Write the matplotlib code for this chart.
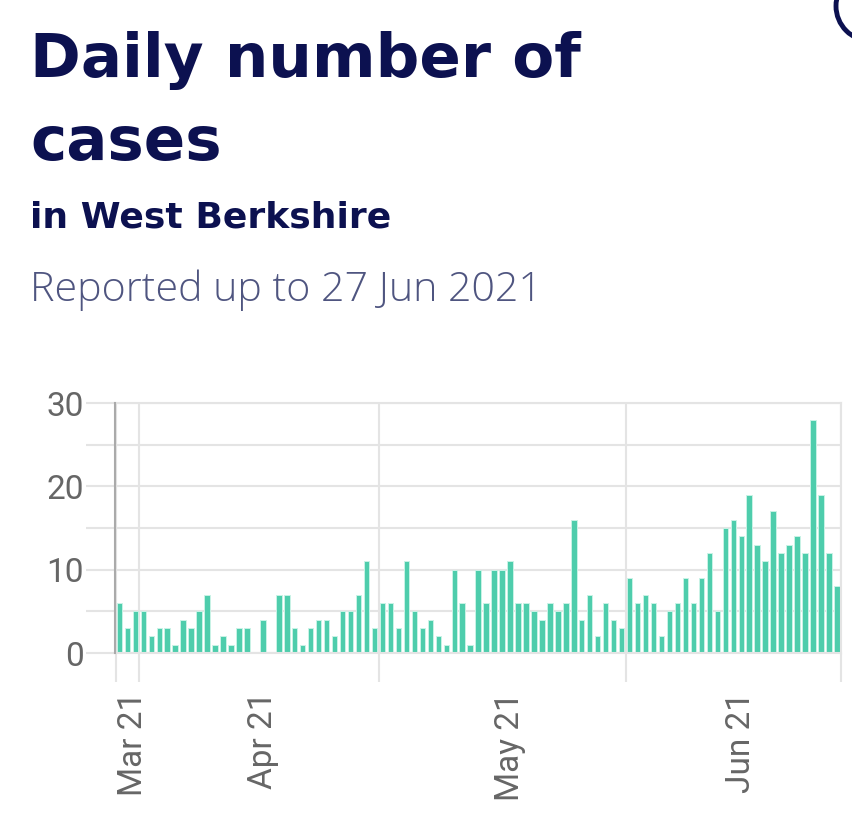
import pandas as pd
import numpy as np
import matplotlib
matplotlib.use('Agg')
import matplotlib.pyplot as plt
import matplotlib.dates as mdates
from matplotlib.patches import Circle

# daily cases, West Berkshire, 29 Mar - 27 Jun 2021
start = '2021-03-29'
end = '2021-06-27'
cases = [6, 3, 5, 5, 2, 3, 3, 1, 4, 3, 5, 7, 1, 2, 1, 3, 3, 0, 4, 0, 7, 7,
         3, 1, 3, 4, 4, 2, 5, 5, 7, 11, 3, 6, 6, 3, 11, 5, 3, 4, 2, 1, 10, 6, 1,
         10, 6, 10, 10, 11, 6, 6, 5, 4, 6, 5, 6, 16, 4, 7, 2, 6, 4, 3, 9, 6, 7,
         6, 2, 5, 6, 9, 6, 9, 12, 5, 15, 16, 14, 19, 13, 11, 17, 12, 13, 14, 12, 28, 19, 12, 8]
month_lines = ['2021-04-01', '2021-05-01', '2021-06-01']
label_pos = ['2021-03-31 05:00', '2021-04-16 12:00', '2021-05-17 12:00', '2021-06-15 10:00']
label_txt = ['Mar 21', 'Apr 21', 'May 21', 'Jun 21']
yticks_major = [0, 10, 20, 30]
yticks_minor = [5, 15, 25]

dates = pd.date_range(start, end, freq='D')
df = pd.DataFrame({'cases': cases}, index=dates)

navy = '#0c1150'
grey_txt = '#666666'
grid_c = '#e4e4e4'
bar_c = '#4ecdac'

W, H = 853, 815
fig = plt.figure(figsize=(W / 100, H / 100), dpi=100)
fig.patch.set_facecolor('white')

# headings
fig.text(30 / W, 1 - 77 / H, 'Daily number of', fontsize=44, color=navy,
         family='DejaVu Sans', weight='bold', va='baseline')
fig.text(30 / W, 1 - 160 / H, 'cases', fontsize=44, color=navy,
         family='DejaVu Sans', weight='bold', va='baseline')
fig.text(30 / W, 1 - 228 / H, 'in West Berkshire', fontsize=26, color=navy,
         family='DejaVu Sans', weight='bold', va='baseline')
fig.text(30 / W, 1 - 301 / H, 'Reported up to 27 Jun 2021', fontsize=29.6, color='#4f5580',
         family='Open Sans', weight='light', va='baseline')

# chart
x0, x1, yb, yt = 115.5, 841, 653, 403
ax = fig.add_axes([x0 / W, 1 - yb / H, (x1 - x0) / W, (yb - yt) / H])
ax.set_axisbelow(True)
ax.bar(df.index + pd.Timedelta(hours=3.5), df['cases'], width=0.68, align='edge',
       color=bar_c, edgecolor='#c9f3e6', linewidth=0.7, zorder=2)

ax.set_xlim(pd.Timestamp(start), pd.Timestamp(end) + pd.Timedelta(days=1))
ax.set_ylim(0, 30)

ax.set_yticks(yticks_major)
ax.set_yticks(yticks_minor, minor=True)
ax.set_yticklabels([str(v) for v in yticks_major], fontsize=24, color=grey_txt, family='Roboto')
ax.tick_params(axis='y', which='both', length=21, width=1.5, color=grid_c, pad=2)
ax.grid(True, axis='y', which='both', color=grid_c, linewidth=1.5)

edges = [start] + month_lines + [pd.Timestamp(end) + pd.Timedelta(days=1)]
ax.set_xticks(pd.to_datetime(edges), minor=True)
ax.set_xticks(pd.to_datetime(label_pos))
ax.set_xticklabels(label_txt, rotation=90, fontsize=24, color=grey_txt, family='Roboto',
                   va='top')
ax.tick_params(axis='x', which='major', length=0, pad=28)
ax.tick_params(axis='x', which='minor', length=21, width=1.5, color=grid_c)
ax.grid(True, axis='x', which='minor', color=grid_c, linewidth=1.5)
ax.xaxis.get_minor_ticks()[0].tick1line.set_color('#aaaaaa')

for s in ['top', 'right', 'bottom']:
    ax.spines[s].set_color(grid_c)
    ax.spines[s].set_linewidth(1.5)
ax.spines['left'].set_color('#aaaaaa')
ax.spines['left'].set_linewidth(1.5)
ax.spines['left'].set_zorder(3)

# partial round button in the top-right corner
over = fig.add_axes([0, 0, 1, 1], facecolor='none')
over.set_xlim(0, W)
over.set_ylim(H, 0)
over.axis('off')
over.add_patch(Circle((871, 6), 35, fill=False, edgecolor=navy, linewidth=3.5))

fig.savefig('out.png', dpi=100, facecolor='white')
